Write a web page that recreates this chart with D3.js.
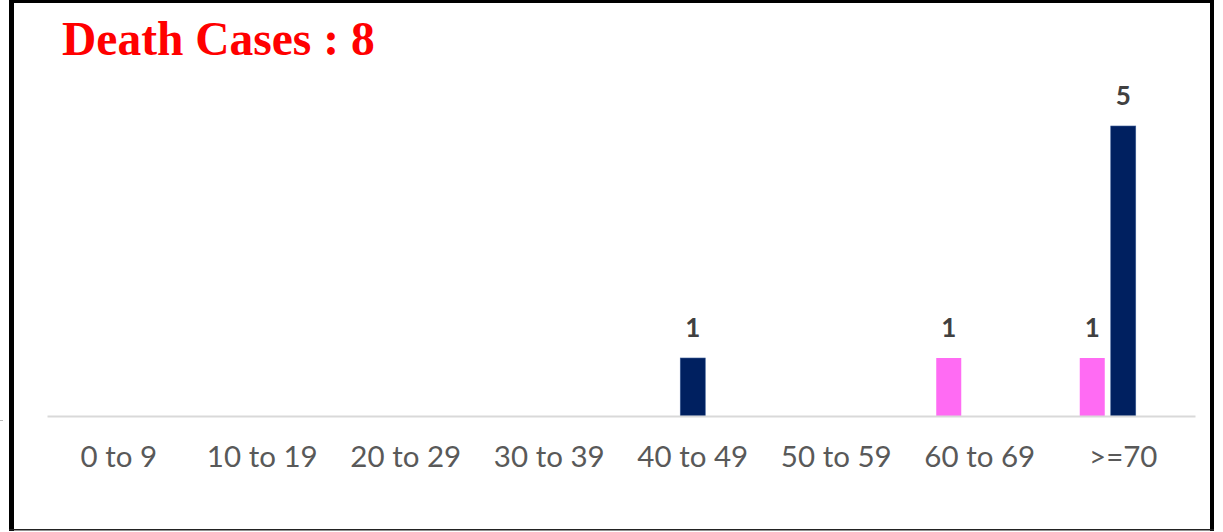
<!DOCTYPE html>
<html>
<head>
<meta charset="utf-8">
<script src="https://cdn.jsdelivr.net/npm/d3@7/dist/d3.min.js"></script>
<style>
  html, body { margin: 0; padding: 0; background: #fff; }
  svg { display: block; }
</style>
</head>
<body>
<div id="chart"></div>
<script>
// age groups on the x axis
const ageGroups = ["0 to 9", "10 to 19", "20 to 29", "30 to 39", "40 to 49", "50 to 59", "60 to 69", ">=70"];
// series (Excel clustered columns, third series is empty)
const seriesNames = ["female", "male", "other"];
const femaleDeaths = [0, 0, 0, 0, 0, 0, 1, 1];
const maleDeaths   = [0, 0, 0, 0, 1, 0, 0, 5];
const otherDeaths  = [0, 0, 0, 0, 0, 0, 0, 0];
const titleText = "Death Cases : 8";

const colors = { female: "#ff6bf3", male: "#002060", other: "#a5a5a5" };

const chart = {
  width: 1223,
  height: 532,
  plot: { left: 47, right: 1195, top: 68, bottom: 416 },
  draw: () => {
    const { width, height, plot } = chart;
    const svg = d3.select("#chart").append("svg")
      .attr("width", width)
      .attr("height", height);

    // frame
    svg.append("rect").attr("x", 0).attr("y", 0).attr("width", width).attr("height", height).attr("fill", "#fff");
    svg.append("rect").attr("x", 9).attr("y", 0).attr("width", 5).attr("height", 531).attr("fill", "#000");
    svg.append("rect").attr("x", 9).attr("y", 0).attr("width", 1205).attr("height", 3).attr("fill", "#000");
    svg.append("rect").attr("x", 1210).attr("y", 0).attr("width", 4).attr("height", 531).attr("fill", "#000");
    svg.append("rect").attr("x", 9).attr("y", 529).attr("width", 1205).attr("height", 1.5).attr("fill", "#222");
    svg.append("line").attr("x1", 0).attr("x2", 3).attr("y1", 420.5).attr("y2", 420.5)
      .attr("stroke", "#bbb").attr("stroke-width", 1);

    // title
    svg.append("text")
      .attr("x", 62).attr("y", 55)
      .text(titleText)
      .style("font-family", "'Liberation Serif', 'Times New Roman', serif")
      .style("font-weight", "bold")
      .style("font-size", "47.5px")
      .style("fill", "#ff0000");

    const data = ageGroups.map((g, i) => ({
      group: g,
      female: femaleDeaths[i],
      male: maleDeaths[i],
      other: otherDeaths[i]
    }));

    const x = d3.scaleBand()
      .domain(ageGroups)
      .range([plot.left, plot.right])
      .paddingInner(0)
      .paddingOuter(0);

    // bars are 25px wide, 6px gap: group of 3 = 87 out of 143.5 band
    const groupW = 87;
    const xs = d3.scaleBand()
      .domain(seriesNames)
      .range([0, groupW])
      .paddingInner(6 / 31);

    const y = d3.scaleLinear()
      .domain([0, 6])
      .range([plot.bottom, plot.top]);

    const groups = svg.append("g")
      .selectAll("g")
      .data(data)
      .join("g")
      .attr("transform", d => "translate(" + (x(d.group) + (x.bandwidth() - groupW) / 2) + ",0)");

    const cells = groups.selectAll("g")
      .data(d => seriesNames.map(s => ({ key: s, value: d[s] })))
      .join("g");

    cells.filter(d => d.value > 0)
      .append("rect")
      .attr("x", d => xs(d.key))
      .attr("width", xs.bandwidth())
      .attr("y", d => y(d.value))
      .attr("height", d => y(0) - y(d.value))
      .attr("fill", d => colors[d.key])
      .attr("stroke", d => d.key === "male" ? "#3a5a94" : "none")
      .attr("stroke-width", 0.6);

    cells.filter(d => d.value > 0)
      .append("text")
      .attr("x", d => xs(d.key) + xs.bandwidth() / 2)
      .attr("y", d => y(d.value) - 21)
      .attr("text-anchor", "middle")
      .text(d => d.value)
      .style("font-family", "Lato, 'Open Sans', sans-serif")
      .style("font-weight", "bold")
      .style("font-size", "26px")
      .style("fill", "#404040");

    // x axis
    const xAxis = g => g
      .attr("transform", "translate(0," + plot.bottom + ")")
      .call(d3.axisBottom(x).tickSize(0).tickPadding(30))
      .call(g => g.select(".domain").attr("stroke", "#d9d9d9").attr("stroke-width", 2))
      .call(g => g.selectAll("text")
        .style("font-family", "Lato, 'Open Sans', sans-serif")
        .style("font-size", "29.5px")
        .style("fill", "#595959"));

    svg.append("g").call(xAxis);
  }
};

document.addEventListener("DOMContentLoaded", chart.draw);
</script>
</body>
</html>
